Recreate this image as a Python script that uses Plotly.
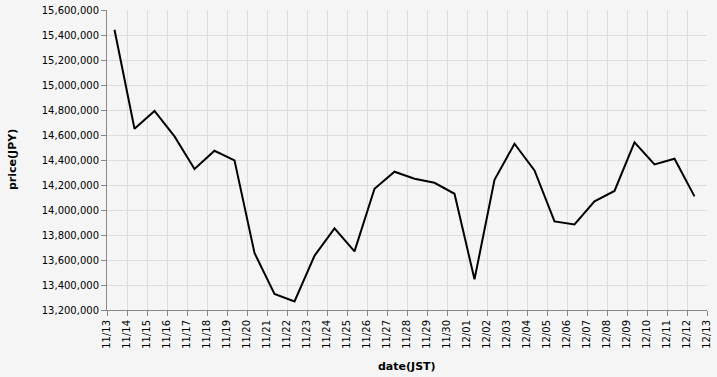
import plotly.graph_objects as go
import pandas as pd

dates = pd.date_range("2024-11-13 09:00", periods=30, freq="D")
prices = [15442000, 14650000, 14792000, 14589000, 14328000, 14474000, 14397000,
          13656000, 13328000, 13269000, 13634000, 13853000, 13669000, 14170000,
          14306000, 14250000, 14218000, 14130000, 13445000, 14242000, 14530000,
          14317000, 13909000, 13885000, 14069000, 14152000, 14541000, 14365000,
          14410000, 14109000]
x_title = "date(JST)"
y_title = "price(JPY)"

font = "DejaVu Sans"
fig = go.Figure()
fig.add_trace(go.Scatter(x=dates, y=prices, mode="lines",
                         line=dict(color="black", width=2), hoverinfo="x+y"))

fig.update_layout(
    width=717, height=377,
    margin=dict(l=107, r=10, t=10, b=67, autoexpand=False),
    paper_bgcolor="#f5f5f5", plot_bgcolor="#f5f5f5",
    showlegend=False,
    font=dict(family=font, size=10, color="#000"),
    annotations=[
        dict(text="<b>" + x_title + "</b>", xref="paper", yref="paper", x=0.5, y=0,
             yshift=-56, xanchor="center", yanchor="middle", showarrow=False,
             font=dict(family=font, size=11, color="#000")),
        dict(text="<b>" + y_title + "</b>", xref="paper", yref="paper", x=0, y=0.5,
             xshift=-95, xanchor="center", yanchor="middle", showarrow=False, textangle=-90,
             font=dict(family=font, size=11, color="#000")),
    ],
)
fig.update_xaxes(
    type="date", range=["2024-11-13", "2024-12-13"], automargin=False,
    dtick=86400000, tick0="2024-11-13", tickformat="%m/%d", tickangle=-90,
    showgrid=True, gridcolor="#ddd", gridwidth=1,
    showline=True, linecolor="#888", linewidth=1,
    ticks="outside", ticklen=5, tickcolor="#888",
    zeroline=False, tickfont=dict(family=font, size=10, color="#000"),
)
fig.update_yaxes(
    range=[13200000, 15600000], dtick=200000, tickformat=",d", automargin=False,
    showgrid=True, gridcolor="#ddd", gridwidth=1,
    showline=True, linecolor="#888", linewidth=1,
    ticks="outside", ticklen=5, tickcolor="#888",
    zeroline=False, tickfont=dict(family=font, size=10, color="#000"),
)
fig.write_html("out.html")
